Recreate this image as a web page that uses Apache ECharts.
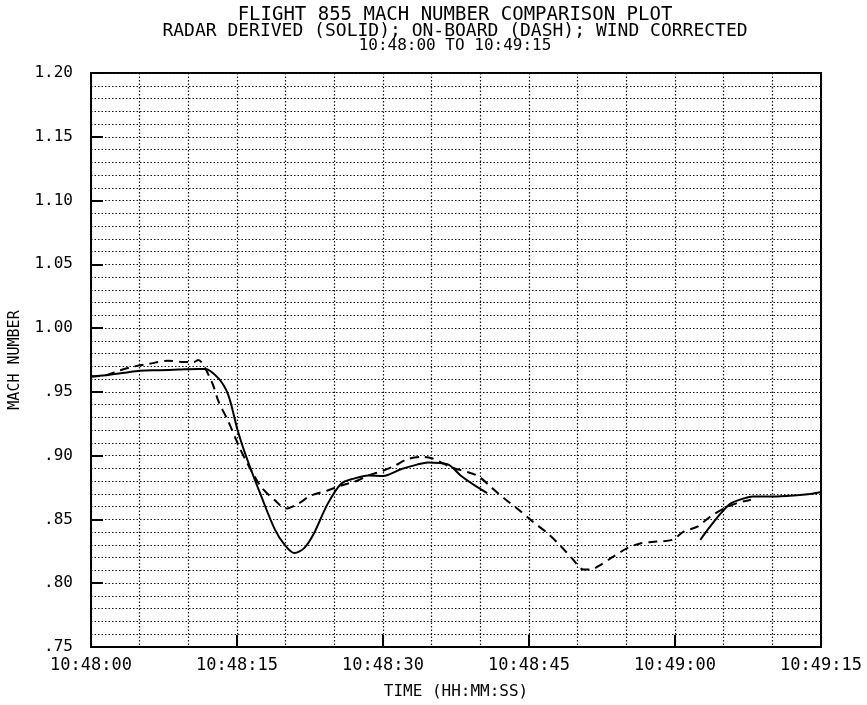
<!DOCTYPE html>
<html>
<head>
<meta charset="utf-8">
<script src="https://cdn.jsdelivr.net/npm/echarts@6/dist/echarts.min.js"></script>
<style>
html,body{margin:0;padding:0;background:#fff;}
#chart{width:867px;height:705px;}
</style>
</head>
<body>
<div id="chart"></div>
<script>
// ---- data (seconds after 10:48:00) ----
const titleLines = [
  'FLIGHT 855 MACH NUMBER COMPARISON PLOT',
  'RADAR DERIVED (SOLID); ON-BOARD (DASH); WIND CORRECTED',
  '10:48:00 TO 10:49:15'
];
const xAxisTitle = 'TIME (HH:MM:SS)';
const yAxisTitle = 'MACH NUMBER';
const timeTickLabels = ['10:48:00','10:48:15','10:48:30','10:48:45','10:49:00','10:49:15'];
const machTickLabels = ['.75','.80','.85','.90','.95','1.00','1.05','1.10','1.15','1.20'];

const radarTime = [0,1.5,3.5,5,7,9,11,11.7,13.1,14.1,15.1,16.1,17.5,18.9,19.9,20.9,21.9,22.9,24.3,25.7,27,28.5,30,31.9,33.5,34.6,36.6,38,39.7,40.7,
  51,
  62.6,63.6,64.7,65.7,67,68,70,72.2,73.9,75];
const radarMach = [0.962,0.963,0.965,0.9665,0.967,0.9675,0.968,0.968,0.9606,0.9477,0.919,0.896,0.868,0.842,0.830,0.8236,0.8275,0.839,0.862,0.878,0.882,0.8845,0.884,0.8895,0.893,0.8947,0.8934,0.8843,0.8753,0.8707,
  null,
  0.834,0.8443,0.8547,0.8624,0.8663,0.868,0.868,0.8688,0.870,0.8715];

const onboardTime = [0,1.5,3,4.5,6,7.9,9.3,10.6,11,12.4,13.1,14.1,15.1,16.1,17.5,18.9,20,21.3,22.6,24.3,25.7,27.4,28.4,30,31.2,32.5,34.1,35,37,39.7,41.1,42.5,44,45.4,46.9,48.3,49.4,50.6,51.3,52.4,53.7,55.1,56.5,58.1,59.7,60.9,62.3,63.6,65,66.4,67.8];
const onboardMach = [0.962,0.963,0.967,0.970,0.972,0.9745,0.9735,0.9735,0.975,0.958,0.9425,0.927,0.909,0.8934,0.8753,0.865,0.8585,0.8624,0.8688,0.8727,0.8766,0.8805,0.8843,0.8882,0.892,0.8973,0.899,0.898,0.891,0.8843,0.8753,0.8663,0.8572,0.8482,0.8392,0.8288,0.8197,0.8107,0.8107,0.8146,0.8211,0.8275,0.8314,0.8327,0.834,0.8405,0.8443,0.852,0.8585,0.8629,0.8655];

// ---- build ----
const FONT = 'DejaVu Sans Mono';
const radarData = radarTime.map((t,i) => [t, radarMach[i] === null ? '-' : radarMach[i]]);
const onboardData = onboardTime.map((t,i) => [t, onboardMach[i]]);

const GRID = {left:89, right:46, top:73, bottom:50};
const plotCenterX = GRID.left + (867 - GRID.left - GRID.right) / 2;

const chart = echarts.init(document.getElementById('chart'), null, {renderer:'canvas'});
const dotted = {color:'#111', width:1.2, type:[1.5,2]};

chart.setOption({
  backgroundColor:'#fff',
  animation:false,
  graphic:[
    {type:'text', x:plotCenterX, y:6, style:{text:titleLines[0], align:'center', verticalAlign:'top', font:'19px "DejaVu Sans Mono"', fill:'#000'}},
    {type:'text', x:plotCenterX, y:22, style:{text:titleLines[1], align:'center', verticalAlign:'top', font:'18px "DejaVu Sans Mono"', fill:'#000'}},
    {type:'text', x:plotCenterX, y:38, style:{text:titleLines[2], align:'center', verticalAlign:'top', font:'16px "DejaVu Sans Mono"', fill:'#000'}}
  ],
  grid:Object.assign({show:true, borderColor:'#000', borderWidth:2, backgroundColor:'transparent'}, GRID),
  xAxis:{
    type:'value', min:0, max:75, interval:15,
    name:xAxisTitle, nameLocation:'middle', nameGap:37,
    nameTextStyle:{fontFamily:FONT, fontSize:16, color:'#000'},
    axisLine:{show:true, lineStyle:{color:'#000', width:2}},
    axisTick:{show:true, inside:true, length:12, lineStyle:{color:'#000', width:2}},
    minorTick:{show:false, splitNumber:3},
    axisLabel:{fontFamily:FONT, fontSize:17, color:'#000', margin:10, showMinLabel:true, showMaxLabel:true,
      formatter:v => timeTickLabels[Math.round(v/15)]},
    splitLine:{show:true, lineStyle:dotted},
    minorSplitLine:{show:true, lineStyle:dotted}
  },
  yAxis:{
    type:'value', min:0.75, max:1.20, interval:0.05,
    name:yAxisTitle, nameLocation:'middle', nameGap:68, nameRotate:90,
    nameTextStyle:{fontFamily:FONT, fontSize:15, color:'#000'},
    axisLine:{show:true, lineStyle:{color:'#000', width:2}},
    axisTick:{show:true, inside:true, length:12, lineStyle:{color:'#000', width:2}},
    minorTick:{show:false, splitNumber:5},
    axisLabel:{fontFamily:FONT, fontSize:16, color:'#000', margin:18,
      formatter:v => machTickLabels[Math.round((v-0.75)/0.05)]},
    splitLine:{show:true, lineStyle:dotted},
    minorSplitLine:{show:true, lineStyle:dotted}
  },
  series:[
    {name:'RADAR DERIVED', type:'line', data:radarData, showSymbol:false, connectNulls:false, smooth:0.3,
      lineStyle:{color:'#000', width:2, type:'solid'}, z:5},
    {name:'ON-BOARD', type:'line', data:onboardData, showSymbol:false, smooth:0.3,
      lineStyle:{color:'#000', width:2, type:[9,6]}, z:4}
  ]
});
</script>
</body>
</html>
